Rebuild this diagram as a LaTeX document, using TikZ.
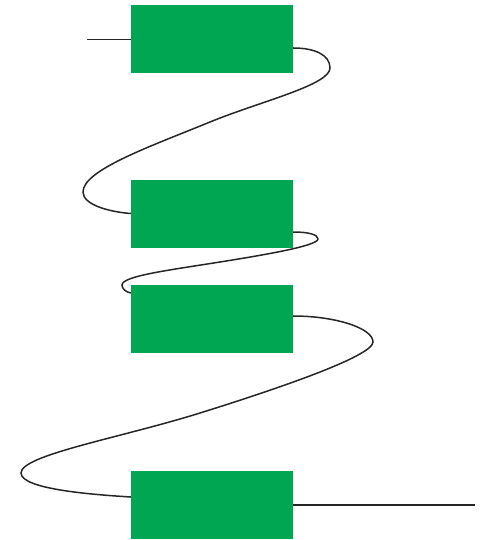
\documentclass[tikz,border=0pt]{standalone}
\definecolor{boxgreen}{RGB}{0,166,81}
\begin{document}
\begin{tikzpicture}[x=1pt,y=-1pt,
  gbox/.style={fill=boxgreen,draw=none,minimum width=162pt,minimum height=68pt,inner sep=0pt},
  wire/.style={draw=black!85,line width=1.5pt}]
\useasboundingbox (0,0) rectangle (485,540);
\node[gbox] (r1) at (212,39.5) {};
\node[gbox] (r2) at (212,213.5) {};
\node[gbox] (r3) at (212,318.5) {};
\node[gbox] (r4) at (212,505) {};
\coordinate (start) at (87,39.5);
\coordinate (stop) at (475,505);
\draw[wire] (start) -- (r1.west);
\draw[wire] ([yshift=-8.5pt]r1.east) .. controls (315,48) and (330,55) .. (330,68)
  .. controls (330,85) and (260,101.5) .. (210,122)
  .. controls (150,146.6) and (83,170) .. (83,192)
  .. controls (83,205) and (110,212) .. (r2.west);
\draw[wire] ([yshift=-18.5pt]r2.east) .. controls (310,232) and (318,235) .. (318,239)
  .. controls (318,246) and (260,255.6) .. (220,262)
  .. controls (170,270) and (122,276) .. (122,285)
  .. controls (122,289) and (126,292) .. ([yshift=25.5pt]r3.west);
\draw[wire] ([yshift=2.5pt]r3.east) .. controls (335,316) and (373,328) .. (373,342)
  .. controls (373,356) and (280,388) .. (200,413)
  .. controls (120,438) and (21,455) .. (21,473)
  .. controls (21,490) and (100,495) .. ([yshift=8pt]r4.west);
\draw[wire] (r4.east) -- (stop);
\end{tikzpicture}
\end{document}
